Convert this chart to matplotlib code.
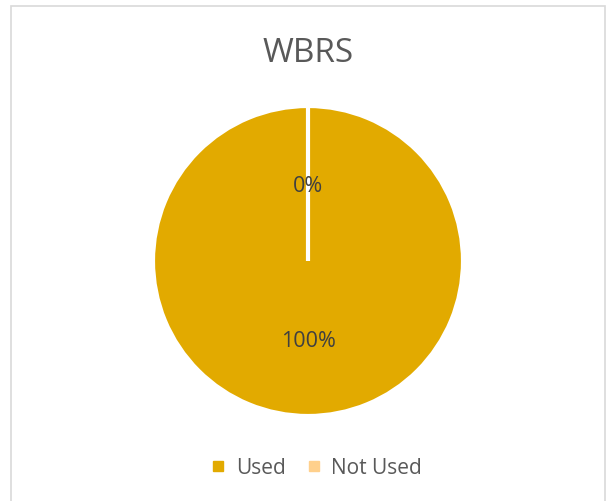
import matplotlib
matplotlib.use("Agg")
from matplotlib import pyplot as plt
from matplotlib.lines import Line2D
from matplotlib.patches import Rectangle

labels = ["Used", "Not Used"]
values = [100, 0]
colors = ["#E2AA00", "#FFD08C"]
title = "WBRS"

plt.rcParams['font.family'] = ['Open Sans', 'DejaVu Sans']

fig = plt.figure(figsize=(6.08, 5.02), dpi=100)

# chart border
fig.patches.append(Rectangle((11 / 608, -0.01), 594 / 608, 1 - 7 / 502 + 0.01,
                             transform=fig.transFigure, fill=False,
                             edgecolor="#D9D9D9", linewidth=1.2))

r = 155
ax = fig.add_axes([(308 - r) / 608, (502 - 262 - r) / 502, 2 * r / 608, 2 * r / 502])
wedges, texts, autotexts = ax.pie(values, colors=colors, startangle=90, counterclock=False,
                                  autopct="%d%%", pctdistance=0.5, radius=1,
                                  wedgeprops=dict(edgecolor="white", linewidth=3),
                                  textprops=dict(color="#404040", fontsize=15.5))
for t in autotexts:
    t.set_va("center_baseline")
ax.set_xlim(-1, 1)
ax.set_ylim(-1, 1)

fig.text(308 / 608, 1 - 53 / 502, title, ha="center", va="center",
         fontsize=24, color="#595959")

handles = [Line2D([], [], marker="s", linestyle="", markersize=7,
                  markerfacecolor=c, markeredgecolor=c) for c in colors]
fig.legend(handles, labels, loc="center", bbox_to_anchor=(316 / 608, 1 - 469 / 502),
           ncol=2, frameon=False, fontsize=15, labelcolor="#595959",
           handlelength=0.8, handletextpad=0.45, columnspacing=0.95)

fig.savefig("out.png", dpi=100)
